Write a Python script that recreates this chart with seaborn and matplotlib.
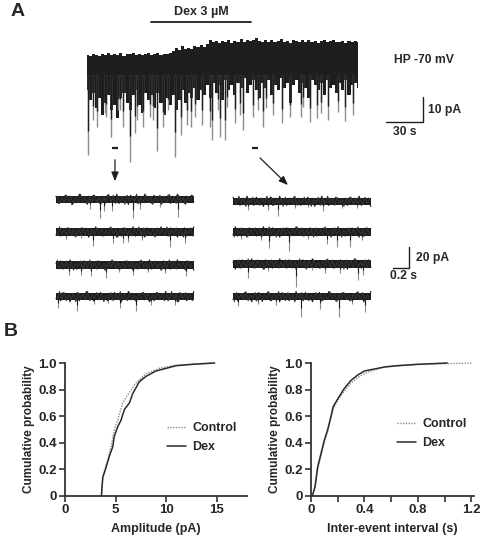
import matplotlib

matplotlib.use("Agg")

import matplotlib.pyplot as plt
import numpy as np
import pandas as pd
import seaborn as sns

W, H = 480, 536

# ---- panel A: long recording (sampled every 2.5 s, current in pA; 0 = starting baseline)
TRACE_DT = 2.5
trace_top = [0.2, -0.3, 0.5, 0.1, -0.2, 0.6, 0.0, 0.9, -0.1, 0.4, 0.2, 1.0, -0.2,
             0.5, 0.3, 0.8, 0.0, 0.6, -0.1, 0.4, 0.7, 0.1, 0.5, 0.9, 0.2, 0.6, 0.3,
             1.0, 1.6, 2.8, 2.2, 3.5, 2.6, 3.0, 2.4, 3.6, 3.1, 3.9, 3.3, 4.6, 6.0,
             5.2, 5.6, 4.9, 5.8, 5.3, 6.1, 5.0, 5.7, 5.4, 6.3, 5.1, 5.9, 5.5, 6.0,
             7.0, 5.6, 5.2, 6.2, 5.4, 5.9, 5.1, 5.8, 6.4, 5.3, 5.7, 5.0, 6.0, 5.5,
             5.2, 5.9, 5.4, 6.1, 5.3, 5.7, 5.0, 5.6, 5.9, 5.2, 5.5, 6.0, 5.1, 5.4,
             5.8, 5.0, 5.5, 5.2, 5.7, 5.3]
trace_bottom = [-14, -18, -15, -21, -17, -24, -19, -16, -22, -20, -25, -17, -15,
                -19, -22, -16, -14, -20, -23, -15, -18, -16, -21, -15, -19, -24, -17,
                -20, -16, -22, -18, -14, -19, -15, -17, -13, -18, -14, -16, -12, -17,
                -11, -15, -12, -18, -10, -14, -12, -16, -11, -13, -9, -15, -12, -10,
                -14, -17, -11, -13, -10, -16, -12, -14, -9, -13, -11, -19, -12, -10,
                -15, -11, -13, -17, -10, -12, -14, -11, -16, -10, -13, -12, -15, -11,
                -14, -10, -16, -12, -11, -13]
event_t = [1.2, 5, 8.4, 14.6, 15.7, 19.4, 25, 26.5, 29.5, 34.8, 38.6, 40.3, 45.5,
           51, 53.5, 57, 61.3, 66, 71.2, 76.6, 80.8, 84.6, 87.6, 93.5, 99.8, 101,
           106, 108, 112, 113.3, 119.7, 124, 126.5, 134.7, 139, 142.7, 145, 150.5,
           157.8, 164.5, 173.8, 175.4, 181, 186.3, 190, 195.2, 203.8, 209.5, 215.6]
event_amp = [-40, -26, -28.7, -23.3, -24.7, -33, -22, -22, -28.7, -43, -31.3, -26,
             -28.7, -24.7, -26, -38.5, -29, -22, -40.7, -32, -28, -28.7, -24.7, -28,
             -28.7, -34, -22, -32.7, -34, -20.7, -27.3, -24, -30, -25, -22, -28.7,
             -21.3, -24, -27.3, -25, -24.7, -20.7, -27, -25.3, -23.3, -26, -22.7,
             -26.5, -24]
dex_on, dex_off = 52, 133
segments = [(20.3, 25.2), (133.8, 138.7)]

# ---- panel A: expanded sweeps (time s, current pA)
noise = [3, -4, 2, -3, 4, -2, 3, -5, 2, -3, 5, -3, 2, -4, 3, -2, 4, -3, 2, -5, 3,
         -4, 4, -2, 3, -3, 5, -4, 2, -3, 3, -5, 4, -2, 2, -4, 3, -3, 5, -2, 2, -4,
         4, -3, 3, -5, 2, -3, 4, -4, 3, -2, 5, -3, 2, -4, 3, -3, 4, -2]
sweep_center = [-13.9, -45.6, -77.7, -108.4, -15.8, -45.6, -76.7, -108.4]
sweep_start = [0, 0, 0, 0, 2.12, 2.12, 2.12, 2.12]
sweep_ev_t = [
    [0.18, 0.41, 0.53, 0.57, 0.67, 0.92, 1.00, 1.25, 1.46],
    [0.12, 0.30, 0.44, 0.68, 0.80, 0.86, 1.03, 1.36, 1.55],
    [0.15, 0.30, 0.42, 0.60, 0.75, 0.92, 1.10, 1.30, 1.56],
    [0.02, 0.25, 0.45, 0.62, 0.77, 0.96, 1.14, 1.43],
    [0.18, 0.42, 0.54, 0.74, 0.90, 1.08, 1.30, 1.48],
    [0.10, 0.33, 0.43, 0.67, 0.90, 1.12, 1.24, 1.40, 1.55],
    [0.18, 0.42, 0.76, 0.95, 1.10, 1.28, 1.50, 1.56],
    [0.06, 0.30, 0.52, 0.82, 1.04, 1.27, 1.42, 1.58],
]
sweep_ev_amp = [
    [6, 9, 18, 11, 11, 18, 9, 7, 17],
    [7, 6, 14, 11, 11, 10, 8, 15, 11],
    [10, 10, 11, 13, 7, 10, 7, 8, 11],
    [11, 14, 7, 6, 11, 14, 8, 8],
    [8, 8, 14, 7, 6, 9, 7, 7],
    [7, 8, 16, 18, 7, 12, 15, 15, 8],
    [14, 7, 22, 6, 9, 9, 16, 11],
    [9, 7, 8, 20, 12, 20, 7, 15],
]
SWEEP_LEN = 1.65

# ---- panel B: cumulative distributions
amp_dex_x = [3.6, 3.73, 4.0, 4.39, 4.72, 4.88, 5.21, 5.54, 5.87, 6.37, 6.7, 7.36,
             8.02, 9.0, 10.0, 11.0, 12.6, 14.8]
amp_dex_y = [0, 0.14, 0.2, 0.3, 0.37, 0.45, 0.52, 0.57, 0.65, 0.70, 0.77, 0.86,
             0.90, 0.94, 0.96, 0.98, 0.99, 1.0]
amp_ctl_x = [3.6, 3.73, 3.89, 4.22, 4.55, 4.88, 5.21, 5.71, 6.2, 7.03, 8.02, 9.34,
             10.66, 13.3, 14.8]
amp_ctl_y = [0, 0.12, 0.19, 0.27, 0.37, 0.5, 0.57, 0.7, 0.76, 0.85, 0.92, 0.96,
             0.98, 0.995, 1.0]
iei_dex_x = [0.01, 0.03, 0.05, 0.075, 0.1, 0.125, 0.15, 0.165, 0.2, 0.25, 0.3,
             0.35, 0.4, 0.45, 0.55, 0.65, 0.8, 1.02]
iei_dex_y = [0, 0.07, 0.22, 0.32, 0.42, 0.5, 0.6, 0.67, 0.73, 0.81, 0.87, 0.91,
             0.94, 0.95, 0.97, 0.98, 0.99, 1.0]
iei_ctl_x = [0.01, 0.03, 0.05, 0.08, 0.1, 0.13, 0.15, 0.17, 0.2, 0.25, 0.3, 0.35,
             0.4, 0.45, 0.55, 0.65, 0.8, 1.0, 1.2]
iei_ctl_y = [0, 0.06, 0.2, 0.32, 0.41, 0.5, 0.59, 0.66, 0.72, 0.79, 0.85, 0.89,
             0.92, 0.94, 0.97, 0.98, 0.99, 0.995, 1.0]

INK = "#1e1e1e"
GREY = "#8c8c8c"

sns.set_theme(style="white")
plt.rcParams["font.family"] = ["Liberation Sans", "DejaVu Sans"]
plt.rcParams["font.weight"] = "bold"
plt.rcParams["axes.labelweight"] = "bold"


def px_axes(fig, x0, y0, x1, y1):
    return fig.add_axes([x0 / W, 1 - y1 / H, (x1 - x0) / W, (y1 - y0) / H])


fig = plt.figure(figsize=(W / 100, H / 100), dpi=100)

# ---------------- long recording
ax = px_axes(fig, 87, 0, 440, 165)
ax.set_xlim(0, 286.3)
ax.set_ylim(-44, 22)
ax.axis("off")
trace_t = np.arange(len(trace_top)) * TRACE_DT
ax.fill_between(trace_t, trace_bottom, trace_top, step="mid", color=INK, lw=0)
amps = np.array(event_amp)
ax.vlines(event_t, -8, amps, color=GREY, lw=1.0)
ax.vlines(event_t, -8, -8 + 0.7 * (amps + 8), color=INK, lw=1.0)
ax.plot([dex_on, dex_off], [13.2, 13.2], color=INK, lw=1.3)
ax.text((dex_on + dex_off) / 2, 15.0, "Dex 3 µM", ha="center", va="bottom",
        fontsize=9, fontweight="bold")
for a, b in segments:
    ax.plot([a, b], [-37.2, -37.2], color=INK, lw=1.6, solid_capstyle="butt")
ax.annotate("", xy=(22.7, -51.6), xytext=(22.7, -40.8), annotation_clip=False,
            arrowprops=dict(arrowstyle="-|>,head_length=0.45,head_width=0.18",
                            color=INK, lw=0.9))
ax.annotate("", xy=(164.6, -52.8), xytext=(138.7, -40.4), annotation_clip=False,
            arrowprops=dict(arrowstyle="-|>,head_length=0.45,head_width=0.18",
                            color=INK, lw=0.9))
ax.text(249, -2, "HP -70 mV", ha="left", va="center", fontsize=8.7, fontweight="bold")
ax.plot([242.5, 272.5, 272.5], [-26.8, -26.8, -16.8], color=INK, lw=1.0)
ax.text(276.5, -22, "10 pA", ha="left", va="center", fontsize=8.7, fontweight="bold")
ax.text(257.5, -28.5, "30 s", ha="center", va="top", fontsize=8.7, fontweight="bold")

# ---------------- expanded sweeps
ax2 = px_axes(fig, 50, 185, 440, 318)
ax2.set_xlim(-6 / 83.5, 384 / 83.5)
ax2.set_ylim(-133 / 1.03, 0)
ax2.axis("off")
nz = np.array(noise, dtype=float)
step = SWEEP_LEN / (len(nz) - 1)
for k in range(8):
    c, s = sweep_center[k], sweep_start[k]
    tn = s + np.arange(len(nz)) * step
    ax2.fill_between([s, s + SWEEP_LEN], c - 3.5, c + 3.5, color=INK, lw=0)
    ax2.plot(tn, c + np.roll(nz, 7 * k), color=INK, lw=0.8)
    ax2.plot(tn[:-1] + step / 2, c - np.roll(nz, 13 * k + 3)[:-1], color="#333333", lw=0.7)
    et = s + np.array(sweep_ev_t[k])
    ea = np.array(sweep_ev_amp[k])
    ax2.vlines(et, c, c - ea, color=GREY, lw=0.8)
    ax2.vlines(et, c, c - 0.55 * ea, color=INK, lw=0.8)
ax2.plot([4.03, 4.23, 4.23], [-80.6, -80.6, -60.6], color=INK, lw=1.0)
ax2.text(4.31, -70.5, "20 pA", ha="left", va="center", fontsize=8.7, fontweight="bold")
ax2.text(4.0, -83, "0.2 s", ha="left", va="top", fontsize=8.7, fontweight="bold")

# ---------------- cumulative plots
curves = [
    (px_axes(fig, 65, 363, 247, 496), amp_ctl_x, amp_ctl_y, amp_dex_x, amp_dex_y,
     (0, 18), "Amplitude (pA)", (0.50, 0.44)),
    (px_axes(fig, 311, 363, 474, 496), iei_ctl_x, iei_ctl_y, iei_dex_x, iei_dex_y,
     (0, 1.22), "Inter-event interval (s)", (0.46, 0.47)),
]
for axc, cx, cy, dx, dy, xlim, xlabel, leg in curves:
    sns.lineplot(x=cx, y=cy, ax=axc, color="#8a8a8a", lw=1.0, linestyle=(0, (1, 1)),
                 sort=False, estimator=None, label="Control", clip_on=False)
    sns.lineplot(x=dx, y=dy, ax=axc, color="#2a2a2a", lw=1.1, sort=False,
                 estimator=None, label="Dex", clip_on=False)
    axc.set_xlim(*xlim)
    axc.set_ylim(0, 1.0)
    axc.set_yticks([0, 0.2, 0.4, 0.6, 0.8, 1.0])
    axc.set_yticklabels(["0", "0.2", "0.4", "0.6", "0.8", "1.0"])
    axc.set_xlabel(xlabel, fontsize=9, labelpad=5)
    axc.set_ylabel("Cumulative probability", fontsize=8.5, labelpad=2)
    for side in ("top", "right"):
        axc.spines[side].set_visible(False)
    for side in ("left", "bottom"):
        axc.spines[side].set_color("#333333")
        axc.spines[side].set_linewidth(1.3)
    axc.tick_params(axis="both", direction="out", length=4, width=1.2,
                    color="#333333", labelsize=9.5, pad=2, left=True, bottom=True)
    axc.tick_params(axis="x", which="minor", direction="out", length=4, width=1.2,
                    color="#333333", bottom=True)
    axc.legend(loc="center left", bbox_to_anchor=leg, frameon=False, fontsize=9,
               handlelength=1.5, handletextpad=0.5, labelspacing=0.55)
    axc.grid(False)

curves[0][0].set_xticks([0, 5, 10, 15])
axr = curves[1][0]
axr.set_xticks([0, 0.4, 0.8, 1.2])
axr.set_xticklabels(["0", "0.4", "0.8", "1.2"])
axr.set_xticks([0.2, 0.6, 1.0], minor=True)

fig.text(11 / W, 1 - 12 / H, "A", fontsize=14, fontweight="bold", va="center")
fig.text(4 / W, 1 - 332 / H, "B", fontsize=14, fontweight="bold", va="center")

fig.savefig("out.png", dpi=100)
